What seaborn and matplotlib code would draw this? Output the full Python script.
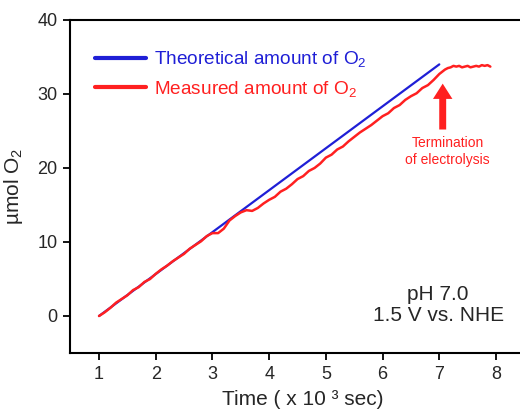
import numpy as np
import pandas as pd
import matplotlib
matplotlib.use("Agg")
import matplotlib.pyplot as plt
import seaborn as sns

# ---- data ----
theo_time = [1.0, 7.0]
theo_o2 = [0.0, 34.0]

meas_time = [1.0, 1.1, 1.2, 1.3, 1.4, 1.5, 1.6, 1.7, 1.8, 1.9,
             2.0, 2.1, 2.2, 2.3, 2.4, 2.5, 2.6, 2.7, 2.8, 2.9,
             3.0, 3.1, 3.2, 3.3, 3.4, 3.5, 3.6, 3.7, 3.8, 3.9,
             4.0, 4.1, 4.2, 4.3, 4.4, 4.5, 4.6, 4.7, 4.8, 4.9,
             5.0, 5.1, 5.2, 5.3, 5.4, 5.5, 5.6, 5.7, 5.8, 5.9,
             6.0, 6.1, 6.2, 6.3, 6.4, 6.5, 6.6, 6.7, 6.8, 6.9,
             7.0, 7.05, 7.1, 7.15, 7.2, 7.25, 7.3, 7.35, 7.4, 7.45,
             7.5, 7.55, 7.6, 7.65, 7.7, 7.75, 7.8, 7.85, 7.9]
meas_o2 = [0.0, 0.5, 1.1, 1.8, 2.3, 2.8, 3.5, 3.9, 4.6, 5.0,
           5.7, 6.3, 6.8, 7.4, 7.9, 8.4, 9.1, 9.6, 10.1, 10.8,
           11.2, 11.2, 11.8, 12.9, 13.5, 14.0, 14.3, 14.2, 14.6, 15.2,
           15.7, 16.1, 16.8, 17.2, 17.8, 18.5, 18.9, 19.6, 20.0, 20.6,
           21.4, 21.8, 22.5, 22.9, 23.6, 24.2, 24.8, 25.3, 25.8, 26.4,
           27.0, 27.4, 28.1, 28.5, 29.2, 29.7, 30.1, 30.8, 31.2, 31.9,
           32.7, 33.0, 33.3, 33.5, 33.6, 33.8, 33.7, 33.8, 33.6, 33.7,
           33.8, 33.6, 33.7, 33.8, 33.7, 33.9, 33.8, 33.9, 33.7]

theo = pd.DataFrame({"time": theo_time, "o2": theo_o2})
meas = pd.DataFrame({"time": meas_time, "o2": meas_o2})

# ---- style ----
sns.set_style("ticks")
plt.rcParams["font.family"] = ["Liberation Sans", "DejaVu Sans"]
plt.rcParams["mathtext.fontset"] = "custom"
plt.rcParams["mathtext.rm"] = "Liberation Sans"
plt.rcParams["mathtext.it"] = "Liberation Sans:italic"

fig = plt.figure(figsize=(5.2, 4.12), dpi=100)
ax = fig.add_axes([0.1346, 0.1432, 0.8654, 0.8083])

sns.lineplot(data=theo, x="time", y="o2", ax=ax, color="#1f1fd6", lw=1.6,
             label=r"Theoretical amount of $\mathregular{O_2}$")
sns.lineplot(data=meas, x="time", y="o2", ax=ax, color="#ff2020", lw=1.8,
             label=r"Measured amount of $\mathregular{O_2}$")

ax.set_xlim(0.488, 8.423)
ax.set_ylim(-5, 40)
ax.set_xticks([1, 2, 3, 4, 5, 6, 7, 8])
ax.set_yticks([0, 10, 20, 30, 40])
ax.tick_params(labelsize=13, width=1.3, length=5, color="black", pad=4)
ax.spines["right"].set_visible(False)
for s in ["left", "bottom", "top"]:
    ax.spines[s].set_linewidth(1.5)
    ax.spines[s].set_color("black")

ax.set_xlabel("Time ( x 10 ³ sec)", fontsize=15)
ax.set_ylabel(r"µmol $\mathregular{O_2}$", fontsize=15)
ax.xaxis.set_label_coords(0.518, -0.11)
ax.yaxis.set_label_coords(-0.1, 0.5)

leg = ax.legend(loc="upper left", bbox_to_anchor=(0.055, 0.912), frameon=False,
                borderpad=0, borderaxespad=0, fontsize=13.7, handlelength=2.7,
                handletextpad=0.4, labelspacing=0.5, labelcolor="linecolor")
for line in leg.get_lines():
    line.set_linewidth(3)

ax.text(6.98, 1.5, "pH 7.0\n1.5 V vs. NHE", ha="center", va="center",
        fontsize=15, linespacing=1.15)

ax.annotate("", xy=(7.06, 31.4), xytext=(7.06, 25.2),
            arrowprops=dict(facecolor="#ff2020", edgecolor="none",
                            width=5, headwidth=14, headlength=11))
ax.text(7.15, 22.2, "Termination\nof electrolysis", ha="center", va="center",
        fontsize=10, color="#ff2020", linespacing=1.3)

fig.savefig("out.png", dpi=100)
